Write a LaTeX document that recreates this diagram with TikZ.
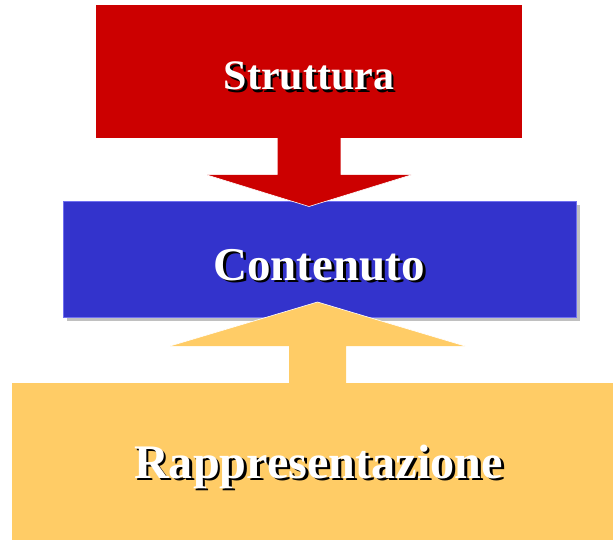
\documentclass[tikz,border=0pt]{standalone}
\usepackage{fontspec}
\setmainfont{Liberation Serif}
\usetikzlibrary{calc}
\usetikzlibrary{shadows}
\definecolor{rosso}{HTML}{CC0000}
\definecolor{blu}{HTML}{3333CC}
\definecolor{bordoblu}{HTML}{7070F0}
\definecolor{arancio}{HTML}{FFCC66}
\definecolor{ombra}{HTML}{C0C0C0}
\newcommand{\testombra}[1]{\rlap{\hspace{2.8pt}\raisebox{-2.8pt}{\color{black}#1}}\textcolor{white}{#1}}

\begin{document}
\begin{tikzpicture}[x=1pt,y=-1pt]
		\tikzstyle{blocco} = [inner sep=0pt, outer sep=0pt, draw=none]
		\tikzstyle{titolo} = [inner sep=0pt, anchor=base, font=\bfseries\fontsize{47}{56}\selectfont]
		\useasboundingbox (0,0) rectangle (613,540);
		
		% Blocchi
		\node[blocco, fill=rosso, minimum width=426pt, minimum height=133pt] (struttura) at (309,71.5) {};
		\node[blocco, fill=blu, draw=bordoblu, line width=0.8pt, minimum width=513pt, minimum height=116pt,
			drop shadow={shadow xshift=4pt, shadow yshift=-4pt, fill=ombra, opacity=1}] (contenuto) at (319.5,259) {};
		\node[blocco, fill=arancio, minimum width=601pt, minimum height=157pt] (rappresentazione) at (312.5,461.5) {};
		
		% Freccia rossa (verso il basso)
		\coordinate (punta1) at ($(struttura.south)+(0,68.5)$);
		\fill[rosso] ($(struttura.south)+(-31.5,-1)$) -- ++(0,38) -- ++(-70.5,0) -- (punta1)
			-- ($(struttura.south)+(102,37)$) -- ++(-70.5,0) -- ++(0,-38) -- cycle;
		\draw[white, line width=0.6pt] ($(struttura.south)+(-102,37)$) -- (punta1) -- ($(struttura.south)+(102,37)$);
		
		% Freccia arancio (verso l'alto)
		\coordinate (punta2) at ($(contenuto.south)+(-2,-15)$);
		\fill[arancio] (punta2) -- ++(147.5,44) -- ++(-119,0) -- ($(punta2 |- rappresentazione.north)+(28.5,1)$)
			-- ++(-57,0) -- ($(punta2)+(-28.5,44)$) -- ++(-119,0) -- cycle;
		\draw[white, line width=0.6pt] ($(punta2)+(-147.5,44)$) -- (punta2) -- ++(147.5,44);
		
		% Etichette
		\node[titolo, font=\bfseries\fontsize{42}{50}\selectfont] (t-struttura) at (309,90) {\testombra{Struttura}};
		\node[titolo] (t-contenuto) at (319,280) {\testombra{Contenuto}};
		\node[titolo, font=\bfseries\fontsize{48.2}{56}\selectfont] (t-rappresentazione) at (318.5,478) {\testombra{Rappresentazione}};
	\end{tikzpicture}
\end{document}
